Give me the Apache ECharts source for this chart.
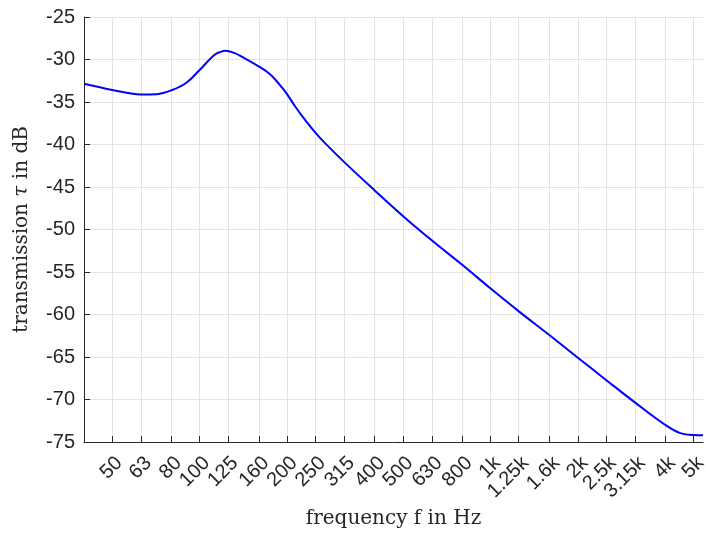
<!DOCTYPE html>
<html>
<head>
<meta charset="utf-8">
<script src="https://cdn.jsdelivr.net/npm/echarts@6/dist/echarts.min.js"></script>
<style>
html,body{margin:0;padding:0;background:#fff;}
#c{width:706px;height:536px;}
</style>
</head>
<body>
<div id="c"></div>
<script>
// Frequencies (Hz) of the sampled curve points
var freqs = [40, 45, 50, 56, 63, 71, 80, 90, 100, 112, 118, 123, 132, 140, 160, 173, 182.5, 192.5, 200, 214, 231.5, 250, 271, 315, 400, 500, 630, 800, 1000, 1250, 1600, 2000, 2500, 3150, 4000, 4500, 5000, 5390];
// Transmission values (dB)
var transmission = [-32.85, -33.24, -33.59, -33.9, -34.13, -34.08, -33.62, -32.73, -31.24, -29.5, -29.1, -28.96, -29.25, -29.7, -30.84, -31.62, -32.41, -33.35, -34.1, -35.62, -37.2, -38.6, -39.9, -42.1, -45.4, -48.4, -51.3, -54.15, -56.92, -59.6, -62.45, -65.08, -67.7, -70.37, -73.0, -73.95, -74.18, -74.2];
// Tick frequencies and labels
var tickFreqs = [50, 63, 80, 100, 125, 160, 200, 250, 315, 400, 500, 630, 800, 1000, 1250, 1600, 2000, 2500, 3150, 4000, 5000];
var tickLabels = ['50', '63', '80', '100', '125', '160', '200', '250', '315', '400', '500', '630', '800', '1k', '1.25k', '1.6k', '2k', '2.5k', '3.15k', '4k', '5k'];
var xMinHz = 40, xMaxHz = 5390;

var tickVals = tickFreqs.map(function (f) { return Math.log10(f); });
var data = freqs.map(function (f, i) { return [Math.log10(f), transmission[i]]; });

function labelFor(v) {
  var best = 0, bd = Infinity;
  for (var i = 0; i < tickVals.length; i++) {
    var d = Math.abs(tickVals[i] - v);
    if (d < bd) { bd = d; best = i; }
  }
  return tickLabels[best];
}

var chart = echarts.init(document.getElementById('c'), null, { renderer: 'canvas' });
var axisColor = '#262626';
var sans = '"Liberation Sans", Arial, sans-serif';
var serif = '"DejaVu Serif", serif';
chart.setOption({
  animation: false,
  backgroundColor: '#ffffff',
  grid: { left: 84, right: 3, top: 17, bottom: 94, containLabel: false, outerBoundsMode: 'none' },
  xAxis: {
    type: 'value',
    min: Math.log10(xMinHz),
    max: Math.log10(xMaxHz),
    name: 'frequency f in Hz',
    nameLocation: 'middle',
    nameGap: 67,
    nameTextStyle: { fontFamily: serif, fontSize: 20, color: '#262626' },
    axisLine: { show: true, onZero: false, lineStyle: { color: axisColor, width: 1 } },
    axisTick: { show: true, inside: true, length: 6, customValues: tickVals, lineStyle: { color: axisColor } },
    axisLabel: {
      customValues: tickVals,
      rotate: 45,
      margin: 11,
      verticalAlign: 'top',
      fontFamily: sans,
      fontSize: 20,
      color: '#262626',
      hideOverlap: false,
      formatter: function (v) { return labelFor(v); }
    },
    splitLine: { show: true, lineStyle: { color: '#e3e3e3', width: 1 } }
  },
  yAxis: {
    type: 'value',
    min: -75,
    max: -25,
    interval: 5,
    name: '{a|transmission }{b|τ}{a| in dB}',
    nameLocation: 'middle',
    nameRotate: 90,
    nameGap: 52,
    nameTextStyle: {
      rich: {
        a: { fontFamily: serif, fontSize: 20, color: '#262626' },
        b: { fontFamily: serif, fontStyle: 'italic', fontSize: 20, color: '#262626' }
      }
    },
    axisLine: { show: true, lineStyle: { color: axisColor, width: 1 } },
    axisTick: { show: true, inside: true, length: 6, lineStyle: { color: axisColor } },
    axisLabel: { margin: 9, fontFamily: sans, fontSize: 20, color: '#262626' },
    splitLine: { show: true, lineStyle: { color: '#e3e3e3', width: 1 } }
  },
  series: [{
    type: 'line',
    data: data,
    smooth: 0.4,
    showSymbol: false,
    lineStyle: { color: '#0000ff', width: 2 },
    itemStyle: { color: '#0000ff' }
  }]
});
</script>
</body>
</html>
